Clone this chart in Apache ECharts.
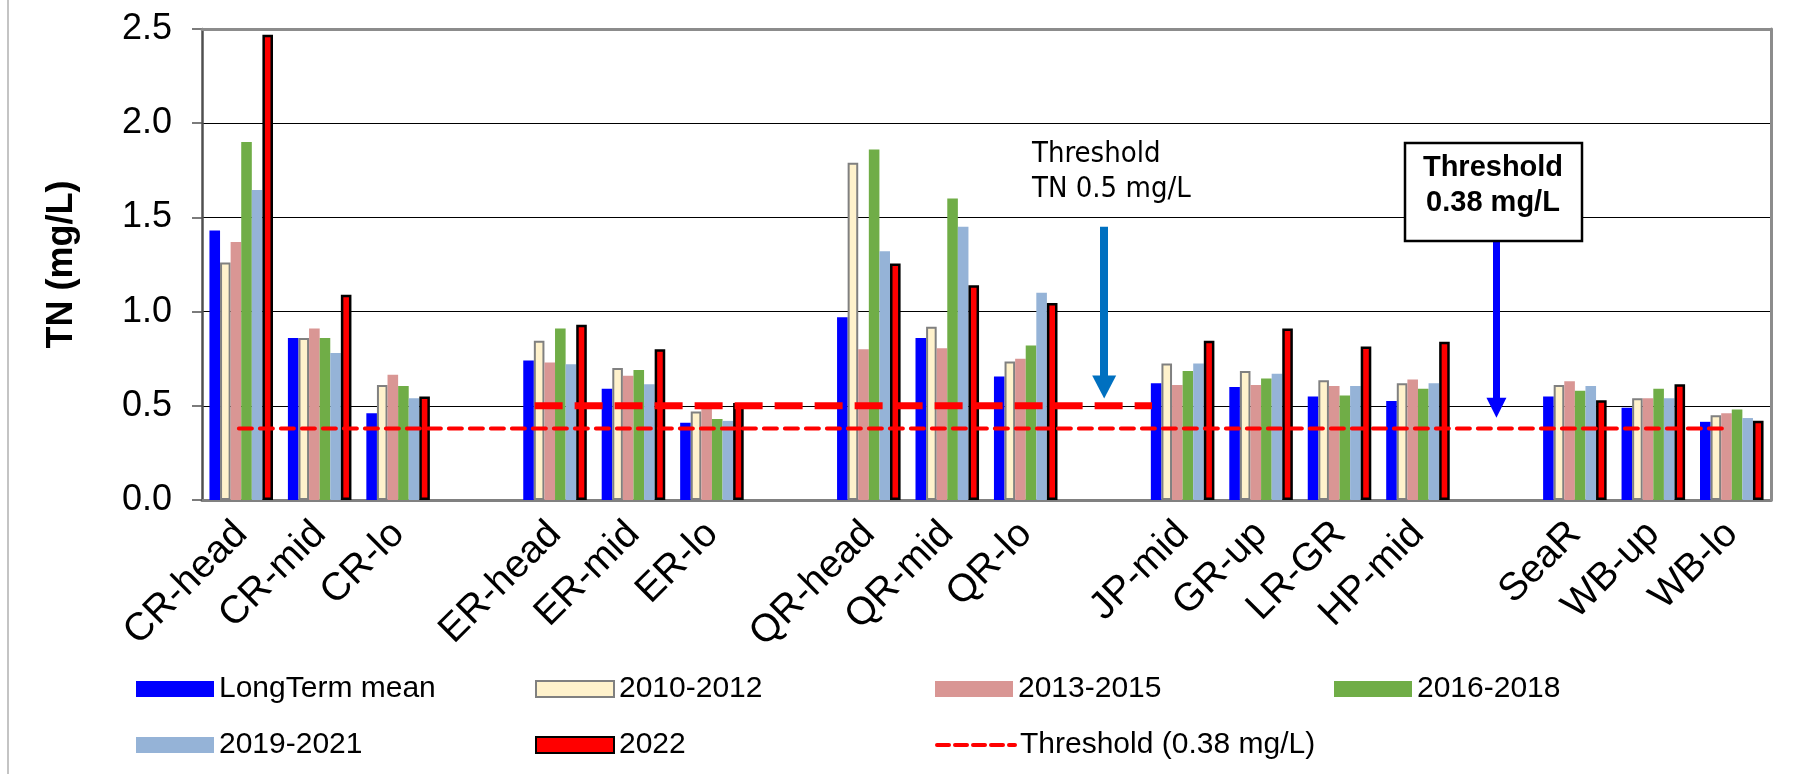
<!DOCTYPE html>
<html>
<head>
<meta charset="utf-8">
<title>TN (mg/L)</title>
<script src="https://cdn.jsdelivr.net/npm/echarts@6/dist/echarts.min.js"></script>
<style>
    html, body { margin: 0; padding: 0; background: #fff; }
    #chart { width: 1816px; height: 774px; }
</style>
</head>
<body>
<div id="chart"></div>
<script>
// sites, with empty slots as gaps between river groups
var categories = ['CR-head', 'CR-mid', 'CR-lo', '', 'ER-head', 'ER-mid', 'ER-lo', '', 'QR-head', 'QR-mid', 'QR-lo', '',
    'JP-mid', 'GR-up', 'LR-GR', 'HP-mid', '', 'SeaR', 'WB-up', 'WB-lo'];

var longTerm = [1.43, 0.86, 0.46, null, 0.74, 0.59, 0.41, null, 0.97, 0.86, 0.655, null, 0.62, 0.60, 0.55, 0.525, null, 0.55, 0.49, 0.415];
var p2010 = [1.26, 0.86, 0.61, null, 0.845, 0.70, 0.47, null, 1.79, 0.92, 0.735, null, 0.725, 0.685, 0.635, 0.62, null, 0.61, 0.54, 0.45];
var p2013 = [1.37, 0.91, 0.665, null, 0.73, 0.66, 0.51, null, 0.80, 0.805, 0.75, null, 0.61, 0.61, 0.605, 0.64, null, 0.63, 0.54, 0.46];
var p2016 = [1.90, 0.86, 0.605, null, 0.91, 0.69, 0.43, null, 1.86, 1.60, 0.82, null, 0.685, 0.645, 0.555, 0.59, null, 0.58, 0.59, 0.48];
var p2019 = [1.645, 0.78, 0.54, null, 0.72, 0.615, 0.42, null, 1.32, 1.45, 1.10, null, 0.725, 0.67, 0.605, 0.62, null, 0.605, 0.54, 0.435];
var y2022 = [2.47, 1.09, 0.55, null, 0.93, 0.80, 0.515, null, 1.255, 1.14, 1.045, null, 0.845, 0.91, 0.815, 0.84, null, 0.53, 0.615, 0.42];

var seriesNames = ['LongTerm mean', '2010-2012', '2013-2015', '2016-2018', '2019-2021', '2022', 'Threshold (0.38 mg/L)'];

// thresholds, x given in category units (0..20)
var thr038 = 0.38;
var thr038Span = [0.47, 19.44];
var thr05 = 0.5;
var thr05Span = [4.24, 12.11];

// arrows pointing at the thresholds: x, top, end (category units / mg/L)
var arrowX = [11.5, 16.5];
var arrowTop = [1.45, 1.40];
var arrowEnd = [0.60, 0.49];

var font = "'Liberation Sans', Arial, sans-serif";

var myChart = echarts.init(document.getElementById('chart'), null, { renderer: 'canvas' });

function barSeries(name, data, color, border, borderWidth) {
    return {
        name: name,
        type: 'bar',
        data: data,
        barGap: '0%',
        barCategoryGap: '19%',
        itemStyle: {
            color: color,
            borderColor: border || color,
            borderWidth: borderWidth || 0
        }
    };
}

var legendData = [];
for (var i = 0; i < 6; i++) {
    legendData.push({ name: seriesNames[i], icon: 'rect' });
}
// dashed line only, hide the round marker ECharts puts on line icons
legendData.push({
    name: seriesNames[6],
    itemStyle: { opacity: 0 },
    lineStyle: { width: 4, type: [12, 6], cap: 'round' }
});

option = {
    animation: false,
    backgroundColor: '#fff',
    grid: {
        left: 202,
        right: 45,
        top: 29,
        bottom: 274
    },
    legend: {
        data: legendData,
        left: 131,
        top: 669,
        width: 1600,
        itemWidth: 78,
        itemHeight: 16,
        itemGap: 26,
        selectedMode: false,
        textStyle: {
            fontFamily: font,
            fontSize: 30,
            color: '#000',
            width: 290,
            lineHeight: 26
        }
    },
    xAxis: [
        {
            type: 'category',
            data: categories,
            axisLine: { lineStyle: { color: '#808080', width: 3 } },
            axisTick: { length: 10, lineStyle: { color: '#606060', width: 1.5 } },
            axisLabel: {
                interval: 0,
                rotate: 45,
                verticalAlign: 'middle',
                padding: [20, 0, 0, 0],
                margin: 28,
                fontFamily: font,
                fontSize: 39,
                color: '#000'
            }
        },
        {
            type: 'value',
            position: 'top',
            min: 0,
            max: 20,
            z: 5,
            axisLine: { show: true, onZero: false, lineStyle: { color: '#8c8c8c', width: 3 } },
            axisTick: { show: false },
            axisLabel: { show: false },
            splitLine: { show: false }
        }
    ],
    yAxis: [
        {
            type: 'value',
            min: 0,
            max: 2.5,
            interval: 0.5,
            name: 'TN (mg/L)',
            nameLocation: 'middle',
            nameGap: 122,
            nameTextStyle: {
                fontFamily: font,
                fontSize: 36,
                fontWeight: 'bold',
                color: '#000'
            },
            axisLine: { show: true, lineStyle: { color: '#505050', width: 2.5 } },
            axisTick: { show: true, length: 10, lineStyle: { color: '#505050', width: 1.5 } },
            axisLabel: {
                margin: 30,
                fontFamily: font,
                fontSize: 36,
                color: '#000',
                formatter: function (v) { return v.toFixed(1); }
            },
            splitLine: { lineStyle: { color: '#000', width: 1.2 } }
        },
        {
            type: 'value',
            position: 'right',
            min: 0,
            max: 2.5,
            z: 5,
            axisLine: { show: true, lineStyle: { color: '#8c8c8c', width: 3 } },
            axisTick: { show: false },
            axisLabel: { show: false },
            splitLine: { show: false }
        }
    ],
    graphic: [
        {
            type: 'line',
            shape: { x1: 8, y1: 0, x2: 8, y2: 774 },
            style: { stroke: '#c4c4c4', lineWidth: 2 },
            silent: true
        },
        {
            type: 'text',
            left: 1032,
            top: 137,
            silent: true,
            style: {
                text: 'Threshold\nTN 0.5 mg/L',
                font: "29px 'DejaVu Sans Condensed', 'Noto Sans', sans-serif",
                lineHeight: 35,
                fill: '#000'
            }
        },
        {
            type: 'rect',
            shape: { x: 1405, y: 143, width: 177, height: 98 },
            style: { fill: '#fff', stroke: '#000', lineWidth: 2.5 },
            z: 10,
            silent: true
        },
        {
            type: 'text',
            x: 1493,
            y: 150,
            z: 11,
            silent: true,
            style: {
                text: 'Threshold\n0.38 mg/L',
                font: "bold 29px 'Liberation Sans', Arial, sans-serif",
                lineHeight: 35,
                align: 'center',
                fill: '#000'
            }
        }
    ],
    series: [
        barSeries(seriesNames[0], longTerm, '#0000ff'),
        barSeries(seriesNames[1], p2010, '#fff2cc', '#808080', 2),
        barSeries(seriesNames[2], p2013, '#d99694'),
        barSeries(seriesNames[3], p2016, '#70ad47'),
        barSeries(seriesNames[4], p2019, '#95b3d7'),
        barSeries(seriesNames[5], y2022, '#ff0000', '#000000', 2.5),
        {
            name: seriesNames[6],
            type: 'line',
            xAxisIndex: 1,
            yAxisIndex: 0,
            symbol: 'none',
            z: 4,
            data: [[thr038Span[0], thr038], [thr038Span[1], thr038]],
            lineStyle: { color: '#ff0000', width: 4, type: [13, 8], cap: 'round' },
            itemStyle: { color: '#ff0000' },
            markLine: {
                silent: true,
                symbol: ['none', 'triangle'],
                symbolSize: [20, 20],
                label: { show: false },
                lineStyle: { color: '#0000ff', width: 7, type: 'solid' },
                data: [
                    [{ coord: [arrowX[1], arrowTop[1]] }, { coord: [arrowX[1], arrowEnd[1]] }]
                ]
            }
        },
        {
            name: 'TN 0.5',
            type: 'line',
            xAxisIndex: 1,
            yAxisIndex: 0,
            symbol: 'none',
            z: 4,
            data: [[thr05Span[0], thr05], [thr05Span[1], thr05]],
            lineStyle: { color: '#ff0000', width: 7, type: [28, 12] },
            markLine: {
                silent: true,
                symbol: ['none', 'triangle'],
                symbolSize: [24, 23],
                label: { show: false },
                lineStyle: { color: '#0070c0', width: 8, type: 'solid' },
                data: [
                    [{ coord: [arrowX[0], arrowTop[0]] }, { coord: [arrowX[0], arrowEnd[0]] }]
                ]
            }
        }
    ]
};
myChart.setOption(option);
</script>
</body>
</html>
